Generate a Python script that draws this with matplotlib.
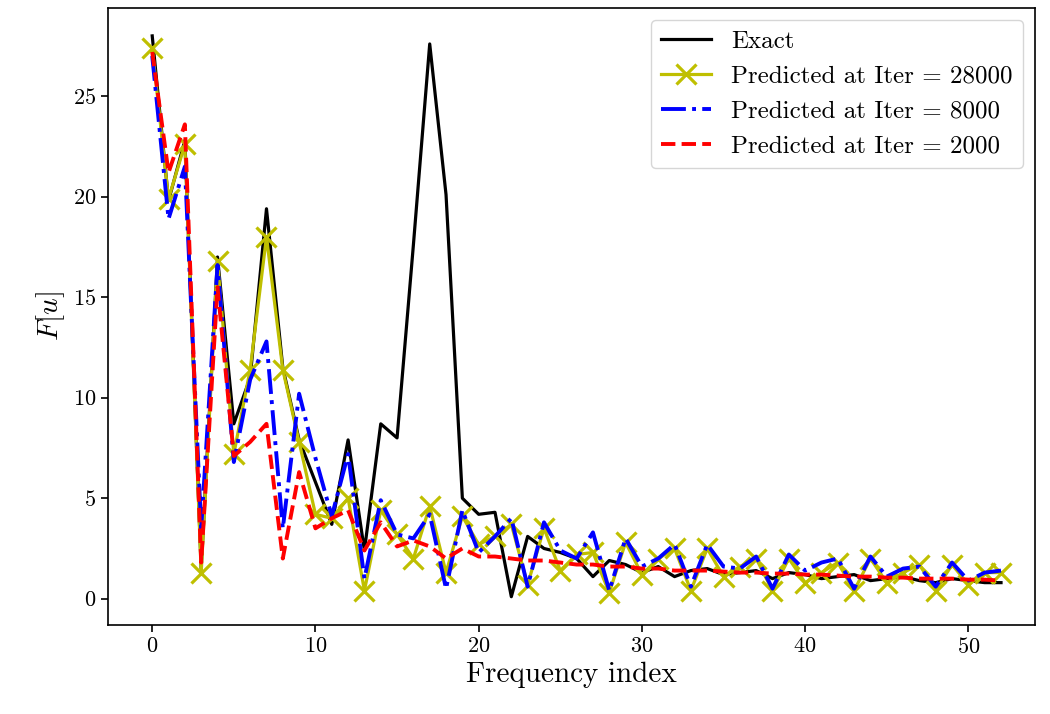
import numpy as np
import matplotlib
matplotlib.use("Agg")
import matplotlib.pyplot as plt

plt.rcParams['font.family'] = 'serif'
plt.rcParams['font.serif'] = ['cmr10', 'DejaVu Serif']
plt.rcParams['mathtext.fontset'] = 'cm'
plt.rcParams['axes.formatter.use_mathtext'] = True

# spectrum values, index 0..52
exact = [28.0, 19.8, 22.8, 1.5, 17.0, 8.7, 11.0, 19.4, 11.5, 7.9,
         5.8, 3.7, 7.9, 2.4, 8.7, 8.0, 17.6, 27.6, 20.1, 5.0,
         4.2, 4.3, 0.1, 3.1, 2.5, 2.3, 2.0, 1.1, 1.9, 1.7,
         1.3, 1.6, 1.1, 1.4, 1.5, 1.2, 1.3, 1.4, 1.0, 1.3,
         1.2, 1.0, 1.1, 1.2, 0.9, 1.0, 1.1, 0.9, 0.8, 1.0,
         0.9, 0.8, 0.8]
pred_28000 = [27.4, 19.9, 22.6, 1.3, 16.8, 7.2, 11.4, 18.0, 11.4, 7.8,
              4.2, 4.0, 5.0, 0.4, 4.4, 3.2, 2.0, 4.6, 1.3, 4.1,
              2.7, 3.1, 3.7, 0.7, 3.5, 1.4, 2.2, 2.3, 0.3, 2.8,
              1.2, 2.0, 2.5, 0.4, 2.5, 1.1, 1.6, 2.0, 0.4, 2.0,
              0.8, 1.3, 1.8, 0.4, 2.0, 0.8, 1.3, 1.7, 0.4, 1.7,
              0.7, 1.3, 1.3]
pred_8000 = [27.0, 18.9, 21.5, 3.5, 16.6, 6.8, 10.9, 12.8, 3.5, 10.2,
             7.0, 4.1, 7.2, 1.0, 4.9, 3.2, 3.0, 4.2, 0.5, 4.4,
             2.3, 3.1, 4.0, 0.6, 3.8, 2.4, 2.0, 3.3, 0.4, 3.0,
             1.6, 2.0, 2.7, 0.6, 2.7, 1.6, 1.5, 2.1, 0.5, 2.2,
             1.4, 1.8, 2.0, 0.5, 2.1, 1.1, 1.5, 1.6, 0.6, 1.8,
             0.9, 1.3, 1.4]
pred_2000 = [27.2, 21.2, 23.6, 1.8, 15.5, 7.1, 7.8, 8.7, 2.0, 6.3,
             3.5, 4.0, 4.4, 2.4, 3.8, 2.6, 2.9, 2.6, 2.0, 2.5,
             2.1, 2.1, 2.0, 1.9, 1.9, 1.8, 1.7, 1.7, 1.6, 1.6,
             1.5, 1.5, 1.4, 1.4, 1.4, 1.35, 1.3, 1.3, 1.25, 1.25,
             1.2, 1.2, 1.15, 1.1, 1.1, 1.05, 1.05, 1.0, 1.0, 1.0,
             0.95, 0.95, 0.9]
freq = np.arange(len(exact))

fig = plt.figure(figsize=(10.5, 7.14), dpi=100)
ax = fig.add_axes([0.103, 0.125, 0.883, 0.864])

ax.plot(freq, exact, 'k-', lw=2.3, label='Exact')
ax.plot(freq, pred_28000, 'y-', lw=2.3, marker='x', ms=14, mew=2.3,
        label='Predicted at Iter = 28000')
ax.plot(freq, pred_8000, 'b-.', lw=2.8, label='Predicted at Iter = 8000')
ax.plot(freq, pred_2000, 'r--', lw=2.8, label='Predicted at Iter = 2000')

ax.set_xlim(-2.7, 54.1)
ax.set_xlabel('Frequency index', fontsize=21)
ax.set_ylabel('$F[u]$', fontsize=21)
ax.tick_params(labelsize=16, width=1.2, length=5)
for s in ax.spines.values():
    s.set_linewidth(1.2)
ax.legend(loc='upper right', fontsize=18, handlelength=2.0)

plt.savefig('out.png', dpi=100)
